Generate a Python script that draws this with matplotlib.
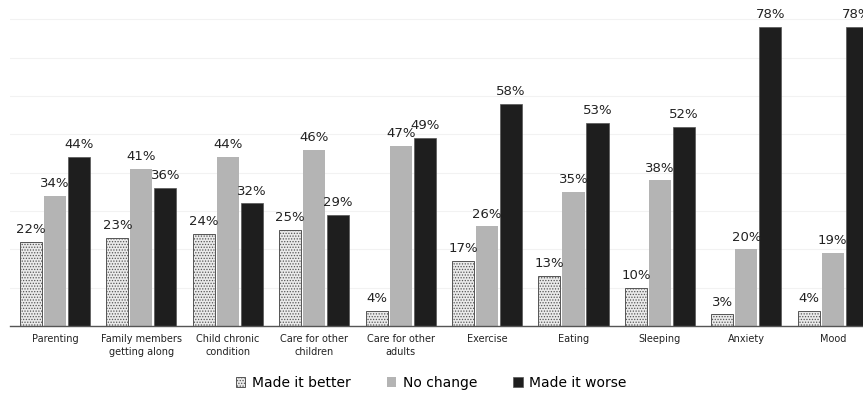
import numpy as np
import matplotlib.pyplot as plt

categories = ['Parenting', 'Family members\ngetting along', 'Child chronic\ncondition',
              'Care for other\nchildren', 'Care for other\nadults', 'Exercise', 'Eating',
              'Sleeping', 'Anxiety', 'Mood']
better = [22, 23, 24, 25, 4, 17, 13, 10, 3, 4]
no_change = [34, 41, 44, 46, 47, 26, 35, 38, 20, 19]
worse = [44, 36, 32, 29, 49, 58, 53, 52, 78, 78]

plt.rcParams['hatch.color'] = '#8a8a8a'
plt.rcParams['hatch.linewidth'] = 0.6

fig = plt.figure(figsize=(8.63, 3.94), dpi=100)
ax = fig.add_axes([10 / 863, 68 / 394, 853 / 863, 326 / 394])

x = np.arange(len(categories))
w = 0.255
off = 0.278

b1 = ax.bar(x - off, better, w, facecolor='#eaeaea', edgecolor='#555555', linewidth=0.7,
            hatch='......', label='Made it better')
b2 = ax.bar(x, no_change, w, color='#b4b4b4', label='No change')
b3 = ax.bar(x + off, worse, w, color='#1e1e1e', edgecolor='#555555', linewidth=0.5,
            label='Made it worse')

for bars in (b1, b2, b3):
    for rect in bars:
        h = rect.get_height()
        ax.text(rect.get_x() + rect.get_width() / 2, h + 1.5, f'{h:.0f}%',
                ha='center', va='bottom', fontsize=9.5, color='#222222')

ax.set_xlim(-0.52, 9.35)
ax.set_ylim(0, 85)
ax.set_yticks(np.arange(0, 81, 10))
ax.yaxis.grid(True, color='#f2f2f2', linewidth=0.8)
ax.set_axisbelow(True)
ax.tick_params(axis='y', left=False, labelleft=False)
ax.tick_params(axis='x', length=0, pad=6, labelsize=7, colors='#222222')
ax.set_xticks(x)
ax.set_xticklabels(categories, linespacing=1.35)
for s in ['top', 'right', 'left']:
    ax.spines[s].set_visible(False)
ax.spines['bottom'].set_color('#555555')
ax.spines['bottom'].set_linewidth(1)

fig.legend(handles=[b1, b2, b3], loc='center', bbox_to_anchor=(0.5, 11 / 394), ncol=3,
           frameon=False, fontsize=10, handlelength=0.65, handleheight=0.65,
           columnspacing=2.6, handletextpad=0.5)

fig.savefig('out.png', dpi=100)
